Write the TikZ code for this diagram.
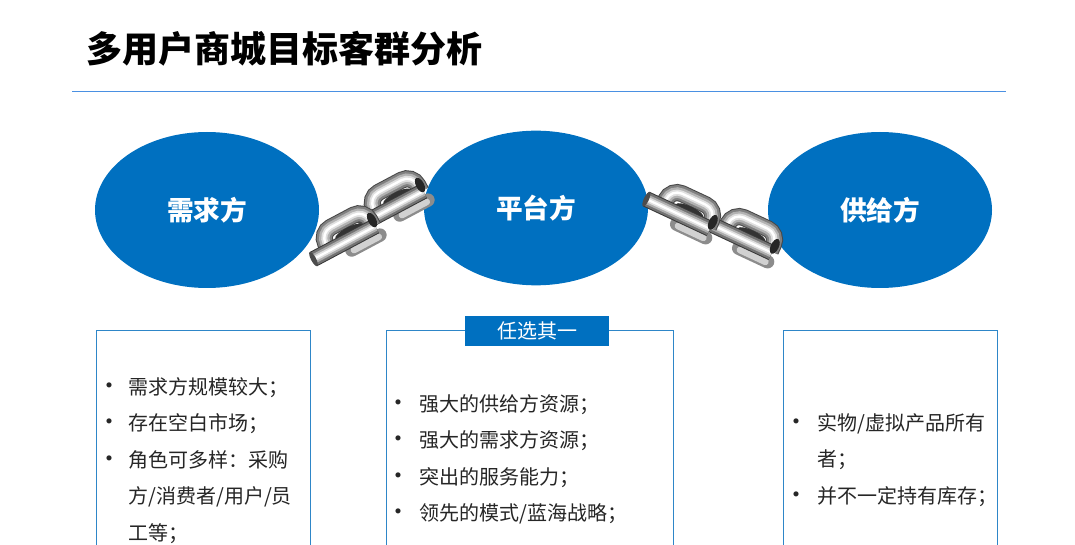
\documentclass[tikz,border=0pt]{standalone}
\usepackage{fontspec}
\usetikzlibrary{shapes.geometric}
\setmainfont{Noto Sans CJK SC}
\definecolor{mainblue}{HTML}{0070C0}
\definecolor{rulecol}{HTML}{4A90E2}
\definecolor{boxcol}{HTML}{2E86C8}
\tikzset{
  party/.style={ellipse,fill=mainblue,text=white,minimum width=168pt,minimum height=117pt,inner sep=0pt,
    font=\fontsize{20}{24}\selectfont\bfseries},
  infobox/.style={draw=boxcol,line width=0.7pt,fill=white,anchor=north west,inner sep=0pt},
  infotext/.style={anchor=north west,inner sep=0pt,align=left,text=black!85,
    font=\fontsize{15}{27.4}\selectfont},
  tagbox/.style={fill=mainblue,text=white,minimum width=108pt,minimum height=22pt,inner sep=0pt,
    font=\fontsize{15}{18}\selectfont},
  pics/chainlink/.style={code={
    % shadow strand
    \draw[black!45,line width=10pt,line cap=round] (2,17) -- (34,17);
    \draw[black!18,line width=5pt,line cap=round] (4,18) -- (32,18);
    % back arch
    \foreach \wd/\shade in {17/black!72,15/black!50,10.5/black!30,6/black!12,2.4/white}
      \draw[\shade,line width=\wd*0.75pt,rounded corners=9pt] (-18,6) -- (-18,-13) -- (32,-13) -- (32,6);
    \fill[black!80] (8,-1) ellipse (15 and 4);
    % front bar
    \foreach \wd/\shade in {16/black!78,14/black!55,9.5/black!32,5.5/black!12,2.2/white}
      \draw[\shade,line width=\wd*0.75pt] (-36,7) -- (34,7);
    \fill[black!85] (34,0) ellipse (4 and 8);
    \fill[black!70] (-36,7) ellipse (2.5 and 8);
  }}
}
\newcommand{\bulletshift}{4.5pt}
\newcommand{\itemrow}[1]{\makebox[17pt][l]{\hspace*{-\bulletshift}{\fontsize{18}{27.4}\selectfont\textbullet}}#1}
\newcommand{\controw}[1]{\hspace*{17pt}#1}
\begin{document}
\begin{tikzpicture}[x=0.75pt,y=-0.75pt]
\useasboundingbox (0,0) rectangle (1075,545);
\clip (0,0) rectangle (1075,545);
% title
\node[anchor=west,inner sep=0pt,font=\fontsize{27}{32}\selectfont\bfseries] (title) at (86,49) {多用户商城目标客群分析};
\coordinate (ruleL) at (72,91);
\coordinate (ruleR) at (1006,91);
\draw[rulecol,line width=0.7pt] (ruleL) -- (ruleR);
% ellipses
\node[party] (demand) at (207,210) {需求方};
\node[party,minimum height=116pt] (platform) at (536,208) {平台方};
\node[party] (supply) at (880,210) {供给方};
% chains
\pic[rotate=28] at (390,201) {chainlink};
\pic[rotate=28] at (342,236) {chainlink};
\pic[rotate=-25] at (744,232) {chainlink};
\pic[rotate=-25] at (682,208) {chainlink};
% boxes
\node[infobox,minimum width=160.5pt,minimum height=180pt] (boxL) at (95.5,330) {};
\node[infobox,minimum width=215.5pt,minimum height=180pt] (boxM) at (385.5,330) {};
\node[infobox,minimum width=160.5pt,minimum height=180pt] (boxR) at (783,330) {};
\node[tagbox] (tag) at (537,331) {任选其一};
% texts
\renewcommand{\bulletshift}{6pt}
\node[infotext] (textL) at (105.5,377) {\itemrow{需求方规模较大；}\\\itemrow{存在空白市场；}\\\itemrow{角色可多样：采购}\\\controw{方/消费者/用户/员}\\\controw{工等；}};
\renewcommand{\bulletshift}{8pt}
\node[infotext] (textM) at (396.5,394) {\itemrow{强大的供给方资源；}\\\itemrow{强大的需求方资源；}\\\itemrow{突出的服务能力；}\\\itemrow{领先的模式/蓝海战略；}};
\node[infotext] (textR) at (794.5,413) {\itemrow{实物/虚拟产品所有}\\\controw{者；}\\\itemrow{并不一定持有库存；}};
\end{tikzpicture}
\end{document}
